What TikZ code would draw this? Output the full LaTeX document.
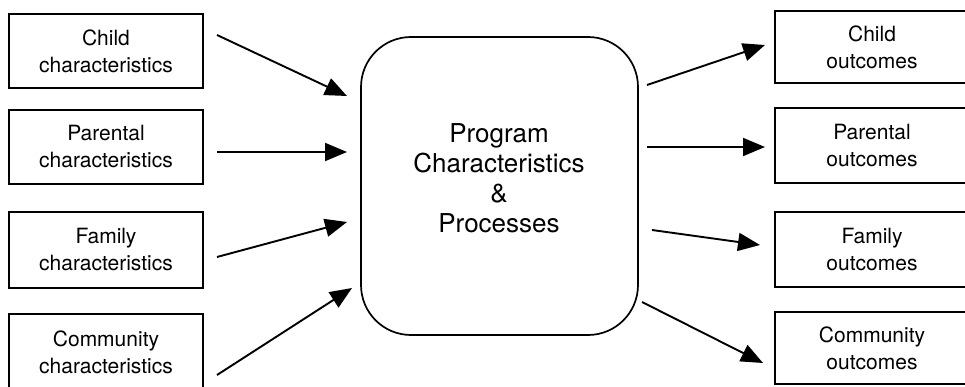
\documentclass[tikz,border=0pt]{standalone}
\usepackage{fontspec}
\setmainfont{TeX Gyre Heros}
\usetikzlibrary{arrows.meta}
\begin{document}
\begin{tikzpicture}[x=1pt,y=-1pt,
  sidebox/.style={draw, line width=1.5pt, inner sep=0pt, minimum width=194pt, minimum height=74pt, align=center, font=\fontsize{21}{27}\selectfont},
  midbox/.style={draw, line width=1.7pt, rounded corners=50pt, inner sep=0pt, minimum width=277pt, minimum height=298pt},
  flow/.style={line width=1.9pt, -{Triangle[length=22pt,width=18pt]}}]
\useasboundingbox (0,0) rectangle (965,387);
\clip (0,0) rectangle (965,387);
% left boxes
\node[sidebox] (c1) at (106,51) {Child\\characteristics};
\node[sidebox] (c2) at (106,147) {Parental\\characteristics};
\node[sidebox, minimum height=76pt] (c3) at (106,250) {Family\\characteristics};
\node[sidebox, minimum height=76pt] (c4) at (106,352) {Community\\characteristics};
% center
\node[midbox] (p) at (499.5,186) {};
\node[align=center, font=\fontsize{26}{30}\selectfont] (pt) at (499,178) {Program\\Characteristics\\\&\\Processes};
% right boxes
\node[sidebox, minimum height=72pt] (o1) at (872,47) {Child\\outcomes};
\node[sidebox, minimum height=75pt] (o2) at (872,145.5) {Parental\\outcomes};
\node[sidebox, minimum height=75pt] (o3) at (872,249.5) {Family\\outcomes};
\node[sidebox, minimum height=72pt] (o4) at (872,348) {Community\\outcomes};
% arrow endpoints
\coordinate (a1s) at (217,35);  \coordinate (a1e) at (347,96);
\coordinate (a2s) at (217,152); \coordinate (a2e) at (347,152);
\coordinate (a3s) at (217,257); \coordinate (a3e) at (347,222);
\coordinate (a4s) at (217,375); \coordinate (a4e) at (352,288);
\coordinate (b1s) at (647,85);  \coordinate (b1e) at (765,45);
\coordinate (b2s) at (647,147); \coordinate (b2e) at (765,147);
\coordinate (b3s) at (652,230); \coordinate (b3e) at (760,245);
\coordinate (b4s) at (642,302); \coordinate (b4e) at (763,363);
\draw[flow] (a1s) -- (a1e);
\draw[flow] (a2s) -- (a2e);
\draw[flow] (a3s) -- (a3e);
\draw[flow] (a4s) -- (a4e);
\draw[flow] (b1s) -- (b1e);
\draw[flow] (b2s) -- (b2e);
\draw[flow] (b3s) -- (b3e);
\draw[flow] (b4s) -- (b4e);
\end{tikzpicture}
\end{document}
